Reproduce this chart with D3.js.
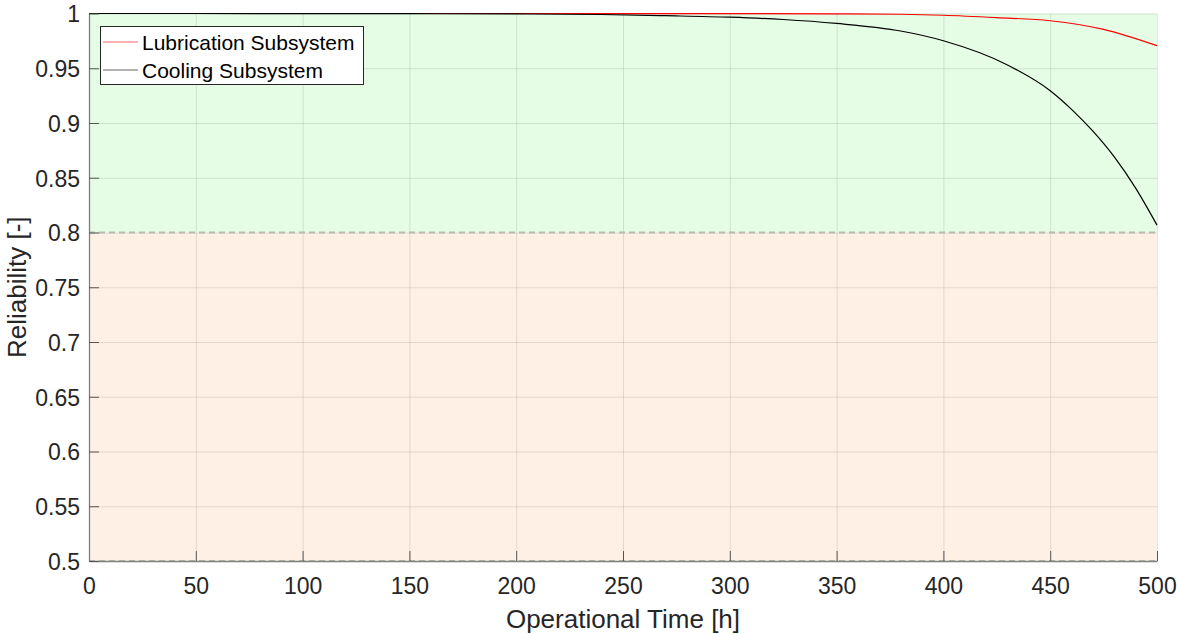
<!DOCTYPE html>
<html>
<head>
<meta charset="utf-8">
<script src="https://cdn.jsdelivr.net/npm/d3@7"></script>
<style>
  body { margin: 0; background: #fff; }
  svg { font-family: "Liberation Sans", Arial, sans-serif; }
</style>
</head>
<body>
<script>
// values
const lubricationT = [0, 50, 100, 150, 200, 250, 300, 350, 380, 400, 425, 450, 475, 500];
const lubricationR = [1, 1, 1, 1, 1, 0.99995, 0.9999, 0.9997, 0.9993, 0.9984, 0.9962, 0.9934, 0.9855, 0.9706];

const coolingT = [0, 50, 100, 150, 200, 240, 270, 300, 325, 350, 380, 400, 430, 450, 460, 470, 480, 490, 500];
const coolingR = [1, 1, 0.99995, 0.9998, 0.9996, 0.9991, 0.998, 0.9966, 0.9945, 0.9909, 0.984, 0.9751, 0.953, 0.9295, 0.9125, 0.8925, 0.869, 0.8405, 0.8067];

const xTicks = [0, 50, 100, 150, 200, 250, 300, 350, 400, 450, 500];
const yTicks = [0.5, 0.55, 0.6, 0.65, 0.7, 0.75, 0.8, 0.85, 0.9, 0.95, 1];

const zones = [
  { from: 0.8, to: 1, color: "#e5fce5" },
  { from: 0.5, to: 0.8, color: "#fef0e5" }
];
const thresholds = [0.8, 0.5];

const series = [
  { name: "Lubrication Subsystem", color: "#ff0000", t: lubricationT, r: lubricationR },
  { name: "Cooling Subsystem", color: "#000000", t: coolingT, r: coolingR }
];

let width = 1177;
let height = 634;
const margin = { top: 13.5, right: 20, bottom: 73, left: 89 };

const x = d3.scaleLinear().domain([0, 500]).range([margin.left, width - margin.right]);
const y = d3.scaleLinear().domain([0.5, 1]).range([height - margin.bottom, margin.top]);

const svg = d3.select("body").append("svg")
  .attr("width", width)
  .attr("height", height);

// background zones
svg.append("g").selectAll("rect")
  .data(zones)
  .join("rect")
  .attr("x", x(0))
  .attr("y", d => y(d.to))
  .attr("width", x(500) - x(0))
  .attr("height", d => y(d.from) - y(d.to))
  .attr("fill", d => d.color);

// grid
const grid = svg.append("g")
  .attr("stroke", "#000")
  .attr("stroke-opacity", 0.1)
  .attr("stroke-width", 1);

grid.selectAll(".vx")
  .data(xTicks)
  .join("line")
  .attr("x1", d => x(d) + 0.5)
  .attr("x2", d => x(d) + 0.5)
  .attr("y1", y(1))
  .attr("y2", y(0.5));

grid.selectAll(".hy")
  .data(yTicks)
  .join("line")
  .attr("x1", x(0))
  .attr("x2", x(500))
  .attr("y1", d => y(d) + 0.5)
  .attr("y2", d => y(d) + 0.5);

// threshold dashed lines
svg.append("g").selectAll("line")
  .data(thresholds)
  .join("line")
  .attr("x1", x(0))
  .attr("x2", x(500))
  .attr("y1", d => y(d))
  .attr("y2", d => y(d))
  .attr("stroke", "#b5bcae")
  .attr("stroke-width", 2)
  .attr("stroke-dasharray", "6,4");

// curves
const line = d3.line()
  .x(d => x(d[0]))
  .y(d => y(d[1]))
  .curve(d3.curveMonotoneX);

svg.append("g")
  .attr("fill", "none")
  .selectAll("path")
  .data(series)
  .join("path")
  .attr("stroke", d => d.color)
  .attr("stroke-width", 1.2)
  .attr("d", d => line(d.t.map((t, i) => [t, d.r[i]])));

// axes
const xAxis = svg.append("g")
  .attr("transform", `translate(0,${y(0.5)})`)
  .call(d3.axisBottom(x).tickValues(xTicks).tickSizeInner(-10).tickSizeOuter(0).tickPadding(17));

const yAxis = svg.append("g")
  .attr("transform", `translate(${x(0)},0)`)
  .call(d3.axisLeft(y).tickValues(yTicks).tickSizeInner(-10).tickSizeOuter(0).tickPadding(9)
    .tickFormat(d => d3.format("")(+d.toFixed(2))));

for (const ax of [xAxis, yAxis]) {
  ax.select(".domain").attr("stroke", "#808080").attr("stroke-width", 1.3);
  ax.selectAll(".tick line").attr("stroke", "#555");
  ax.selectAll(".tick text")
    .attr("fill", "#262626")
    .style("font-size", "23px")
    .style("font-family", "'Liberation Sans', Arial, sans-serif");
}
yAxis.selectAll(".tick text").attr("dy", "0.36em");

// axis titles
svg.append("text")
  .attr("x", (x(0) + x(500)) / 2)
  .attr("y", 628)
  .attr("text-anchor", "middle")
  .attr("fill", "#262626")
  .style("font-size", "26px")
  .text("Operational Time [h]");

svg.append("text")
  .attr("transform", `translate(26,${(y(0.5) + y(1)) / 2}) rotate(-90)`)
  .attr("text-anchor", "middle")
  .attr("fill", "#262626")
  .style("font-size", "26px")
  .text("Reliability [-]");

// legend
const legend = svg.append("g").attr("transform", "translate(100,26)");
legend.append("rect")
  .attr("x", 0.5)
  .attr("y", 0.5)
  .attr("width", 263)
  .attr("height", 58)
  .attr("fill", "#fff")
  .attr("stroke", "#262626")
  .attr("stroke-width", 1);

const item = legend.selectAll(".item")
  .data(series)
  .join("g")
  .attr("transform", (d, i) => `translate(0,${16 + i * 28})`);

item.append("line")
  .attr("x1", 3)
  .attr("x2", 38)
  .attr("stroke", d => d.color)
  .attr("stroke-opacity", 0.6)
  .attr("stroke-width", 1.2);

item.append("text")
  .attr("x", 42)
  .attr("dy", "0.36em")
  .attr("fill", "#000")
  .style("font-size", "21px")
  .text(d => d.name);
</script>
</body>
</html>
